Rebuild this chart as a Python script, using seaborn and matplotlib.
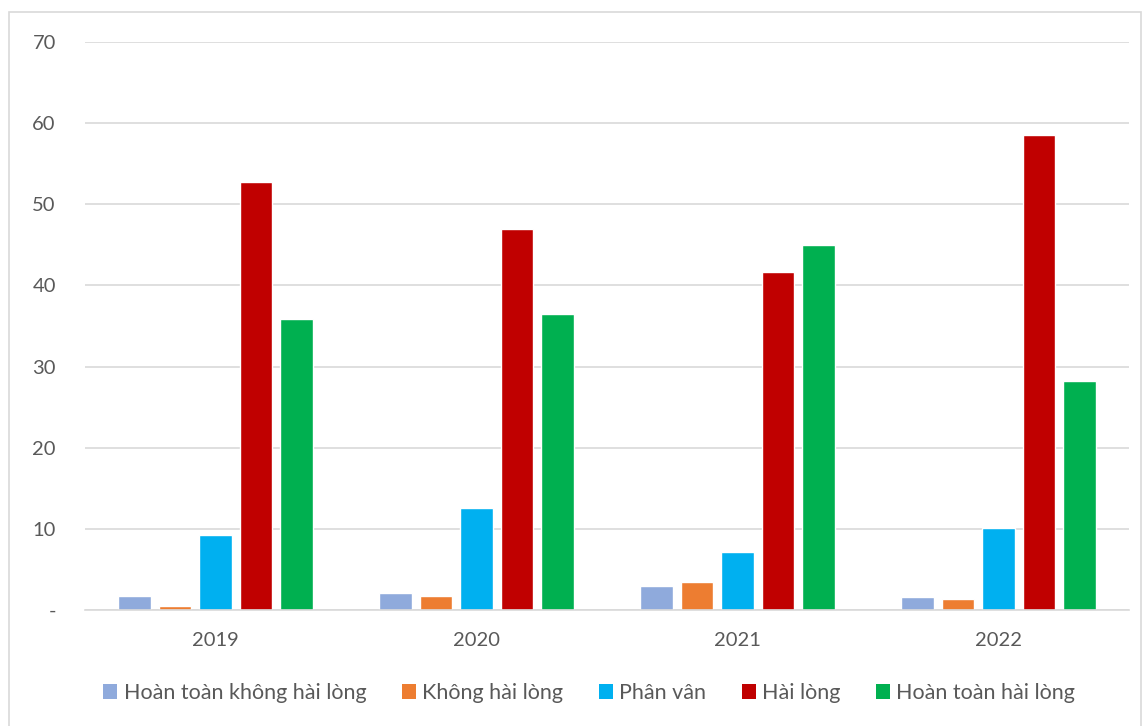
import matplotlib
matplotlib.use("Agg")
import matplotlib.pyplot as plt
import seaborn as sns
import pandas as pd
from matplotlib.patches import Rectangle

years = ["2019", "2020", "2021", "2022"]
series = ["Hoàn toàn không hài lòng", "Không hài lòng", "Phân vân", "Hài lòng", "Hoàn toàn hài lòng"]
v_htkhl = [1.7, 2.1, 2.9, 1.6]
v_khl = [0.5, 1.7, 3.4, 1.35]
v_pv = [9.3, 12.6, 7.2, 10.1]
v_hl = [52.7, 47.0, 41.7, 58.6]
v_hthl = [35.9, 36.5, 45.0, 28.2]
colors = ["#8faadc", "#ed7d31", "#00b0f0", "#c00000", "#00b050"]
yticks = [0, 10, 20, 30, 40, 50, 60, 70]
ytick_labels = ["-", "10", "20", "30", "40", "50", "60", "70"]

rows = []
for s, vals in zip(series, [v_htkhl, v_khl, v_pv, v_hl, v_hthl]):
    for y, v in zip(years, vals):
        rows.append({"Year": y, "Series": s, "Value": v})
df = pd.DataFrame(rows)

sns.set_theme(style="white")
plt.rcParams['font.family'] = ['Lato', 'DejaVu Sans']

fig = plt.figure(figsize=(11.45, 7.26), dpi=100)
ax = fig.add_axes([85/1145, 1-610/726, (1129-85)/1145, (610-42)/726])
sns.barplot(data=df, x="Year", y="Value", hue="Series", order=years, hue_order=series,
            palette=colors, width=0.775, gap=0.2, saturation=1, ax=ax, legend=True)

ax.set_ylim(0, 70)
ax.set_yticks(yticks)
ax.set_yticklabels(ytick_labels)
ax.yaxis.grid(True, color="#d9d9d9", linewidth=1.2)
ax.set_axisbelow(True)
for sp in ["top", "right", "left"]:
    ax.spines[sp].set_visible(False)
ax.spines["bottom"].set_color("#d9d9d9")
ax.spines["bottom"].set_linewidth(1.2)
ax.set_xlabel("")
ax.set_ylabel("")
ax.tick_params(axis="both", length=0, labelsize=14.5, colors="#595959")
ax.tick_params(axis="y", pad=21)
ax.tick_params(axis="x", pad=16)

leg = ax.legend(loc="center", bbox_to_anchor=(0.483, -0.146), ncol=5, frameon=False,
                fontsize=15.5, handlelength=0.65, handleheight=0.65, handletextpad=0.3,
                columnspacing=1.65, labelcolor="#595959")
for h in leg.legend_handles:
    h.set_edgecolor("none")

fig.patches.append(Rectangle((9/1145, -5/726), 1132/1145, 719/726, transform=fig.transFigure,
                             fill=False, edgecolor="#d9d9d9", linewidth=1.2))
fig.savefig("out.png", dpi=100)
